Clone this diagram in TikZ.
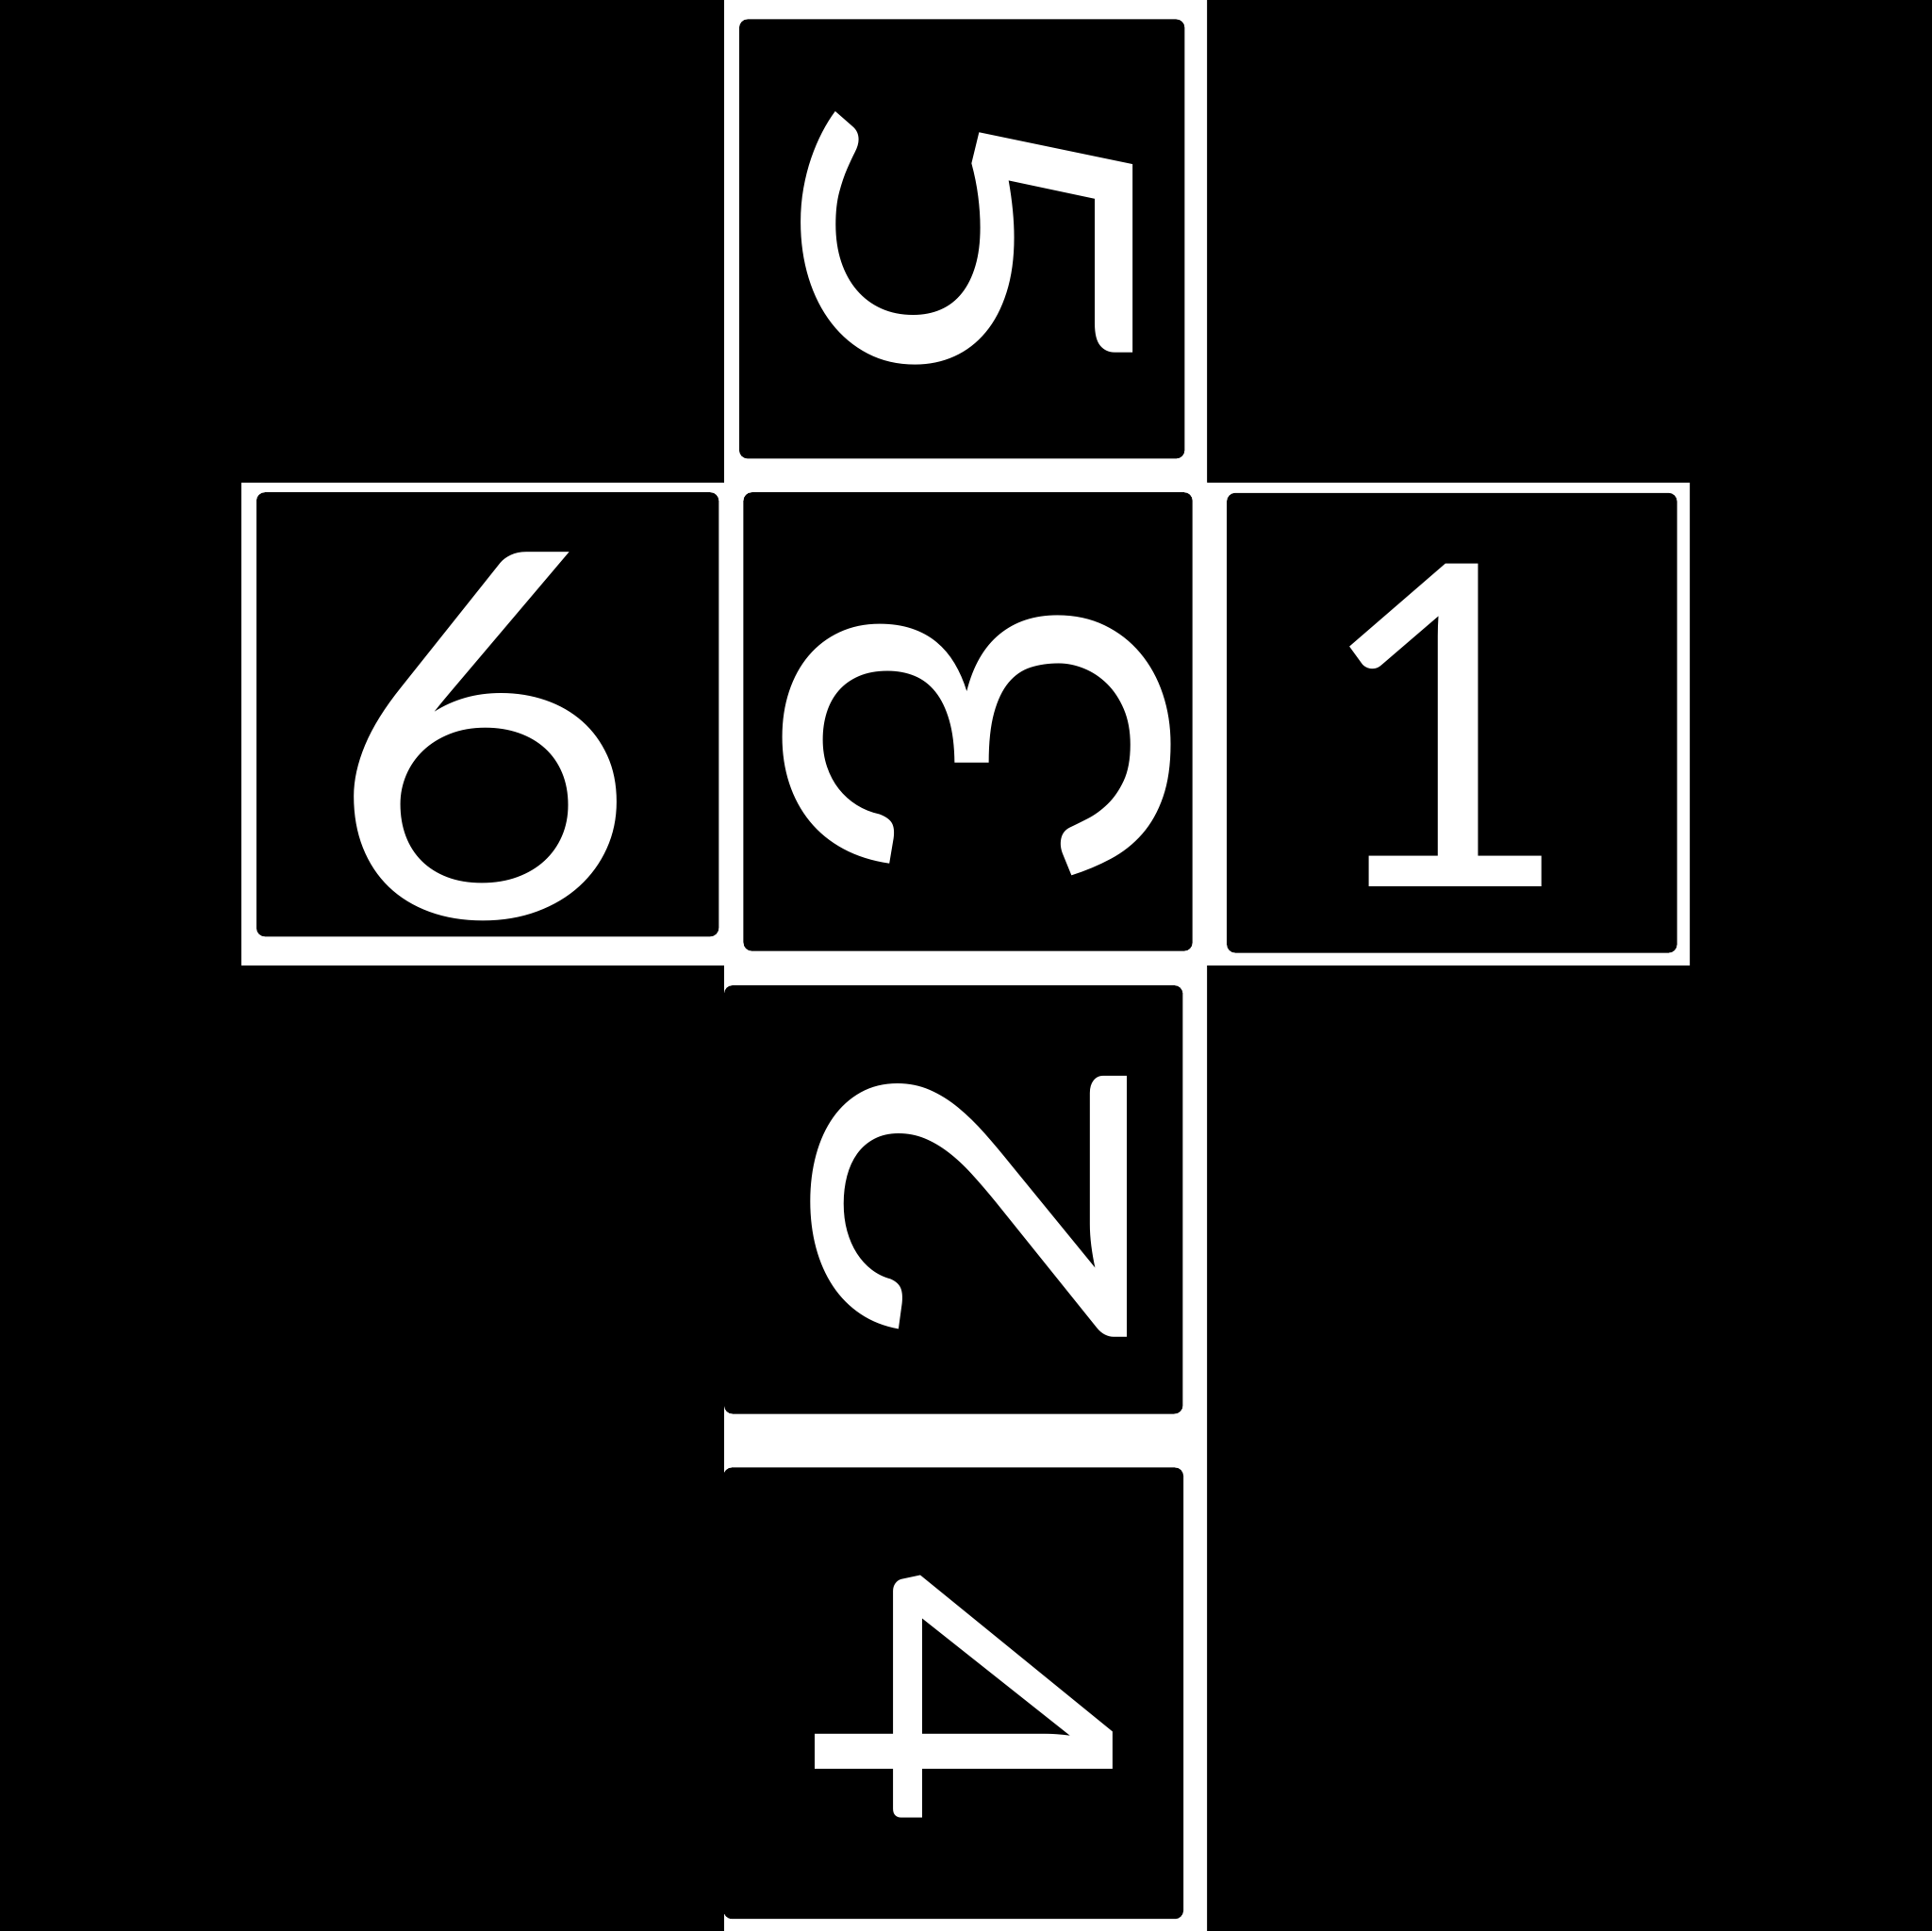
\documentclass[tikz,border=0pt]{standalone}
\usepackage{fontspec}
\setmainfont{Lato}
\usetikzlibrary{positioning}
\tikzset{
  face/.style={rectangle,fill=black,rounded corners=2pt,inner sep=0pt},
  digit/.style={text=white,inner sep=0pt},
}
\newcommand\digsize[1]{\fontsize{#1pt}{#1pt}\selectfont}

\begin{document}
\begin{tikzpicture}
  \useasboundingbox (0,0) rectangle (16,16);
  \fill[black] (-0.5,-0.5) rectangle (16.5,16.5);

  % the net
  \fill[white] (6,16) -- (10,16) -- (10,12) -- (14,12) -- (14,8) -- (10,8)
    -- (10,0) -- (6,0) -- (6,8) -- (2,8) -- (2,12) -- (6,12) -- cycle;

  % faces
  \foreach \n/\x/\y/\w/\h in {5/7.97/14.02/3.69/3.64, 6/4.04/10.08/3.83/3.68,
                              3/8.02/10.02/3.72/3.80, 1/12.03/10.01/3.73/3.81,
                              2/7.90/6.06/3.80/3.55, 4/7.90/1.97/3.81/3.74}
    \node[face,minimum width=\w cm,minimum height=\h cm] (f\n) at (\x,\y) {};

  % numbers
  \foreach \n/\x/\y/\r/\s/\k in {5/8.01/14.00/-90/108/1.21, 6/4.00/9.90/0/120/1.07,
                                 3/8.09/9.85/90/125/1.02, 1/11.96/9.99/0/106/1,
                                 2/8.03/6.02/90/103/1.25, 4/7.99/1.91/-90/98/1.08}
    \node[digit,rotate=\r,font=\digsize{\s}] (d\n) at (\x,\y) {\scalebox{\k}[1]{\n}};
\end{tikzpicture}
\end{document}
